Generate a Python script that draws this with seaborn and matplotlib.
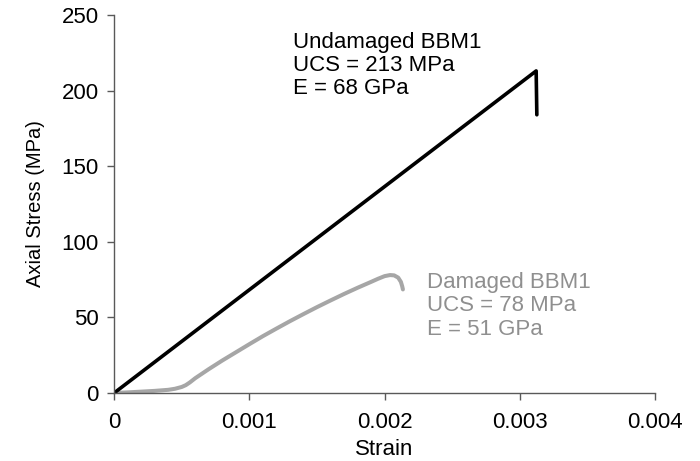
import numpy as np
import pandas as pd
import matplotlib
matplotlib.use("Agg")
import matplotlib.pyplot as plt
import seaborn as sns

# Data
undamaged_strain = [0.0, 0.00312, 0.003125]
undamaged_stress = [0.0, 213.0, 184.0]

damaged_strain = [0.0, 0.0001, 0.0002, 0.0003, 0.0004, 0.00045, 0.0005, 0.00053,
                  0.00056, 0.0006, 0.00065, 0.0007, 0.0008, 0.0009, 0.001, 0.0011,
                  0.0012, 0.0013, 0.0014, 0.0015, 0.0016, 0.0017, 0.0018, 0.0019,
                  0.00195, 0.002, 0.00204, 0.00207, 0.0021, 0.00212, 0.00213, 0.002135]
damaged_stress = [0.0, 0.4, 0.9, 1.4, 2.1, 2.8, 4.0, 5.2,
                  7.0, 9.8, 12.8, 15.8, 21.5, 26.9, 32.3, 37.6,
                  42.6, 47.5, 52.2, 56.8, 61.2, 65.5, 69.6, 73.5,
                  75.5, 77.3, 78.0, 77.8, 76.3, 73.5, 70.5, 68.5]

x_ticks = [0, 0.001, 0.002, 0.003, 0.004]
x_tick_labels = ["0", "0.001", "0.002", "0.003", "0.004"]
y_ticks = [0, 50, 100, 150, 200, 250]

sns.set_style("ticks")
plt.rcParams['font.family'] = ['Liberation Sans', 'DejaVu Sans']

fig = plt.figure(figsize=(7.0, 4.61), dpi=100)
ax = fig.add_axes([0.163, 0.1475, 0.773, 0.82])

df_u = pd.DataFrame({"strain": undamaged_strain, "stress": undamaged_stress})
df_d = pd.DataFrame({"strain": damaged_strain, "stress": damaged_stress})

sns.lineplot(data=df_d, x="strain", y="stress", sort=False, estimator=None,
             color="#a6a6a6", linewidth=2.9, ax=ax)
sns.lineplot(data=df_u, x="strain", y="stress", sort=False, estimator=None,
             color="black", linewidth=2.6, ax=ax)

ax.set_xlim(0, 0.004)
ax.set_ylim(0, 250)
ax.set_xticks(x_ticks)
ax.set_xticklabels(x_tick_labels)
ax.set_yticks(y_ticks)
ax.set_xlabel("Strain", fontsize=16, color="black", labelpad=4)
ax.set_ylabel("Axial Stress (MPa)", fontsize=14.5, color="black", labelpad=12)
ax.tick_params(axis="both", labelsize=16, length=5, width=1,
               direction="out", colors="#595959", labelcolor="black")
ax.tick_params(axis="x", pad=9)
ax.tick_params(axis="y", pad=6)
for s in ["top", "right"]:
    ax.spines[s].set_visible(False)
for s in ["left", "bottom"]:
    ax.spines[s].set_color("#595959")
    ax.spines[s].set_linewidth(1)

ax.text(0.001323, 239, "Undamaged BBM1\nUCS = 213 MPa\nE = 68 GPa",
        fontsize=16, color="black", va="top", ha="left", linespacing=1.15)
ax.text(0.002314, 80, "Damaged BBM1\nUCS = 78 MPa\nE = 51 GPa",
        fontsize=16, color="#8f8f8f", va="top", ha="left", linespacing=1.15)

fig.savefig("out.png", dpi=100)
